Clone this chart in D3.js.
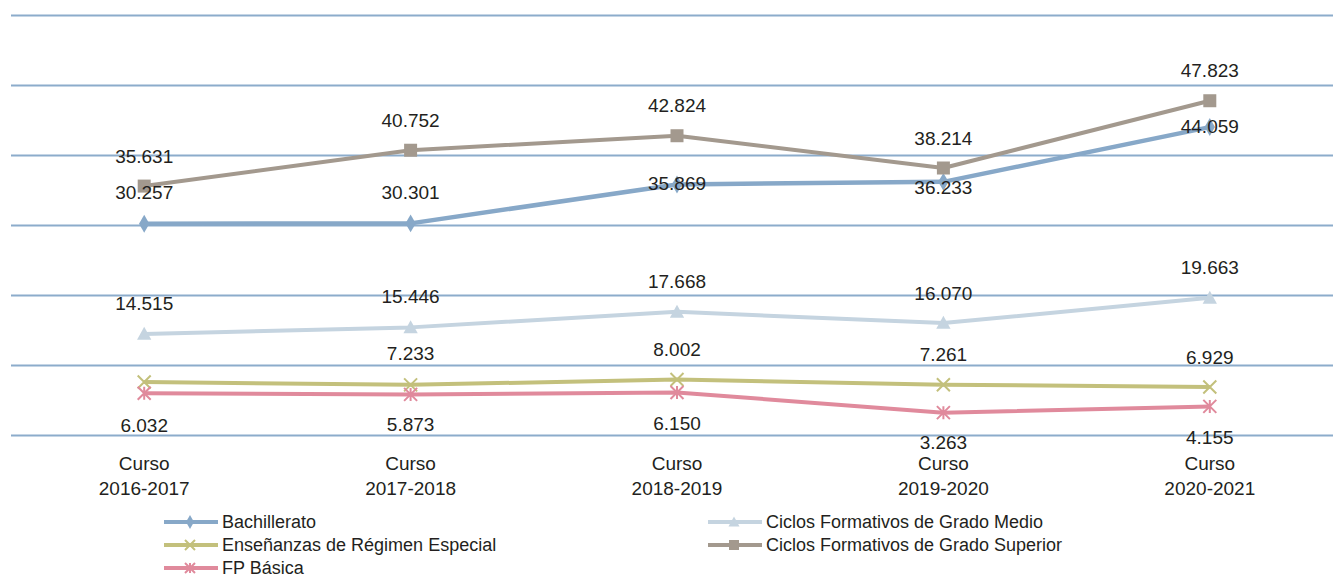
<!DOCTYPE html>
<html><head><meta charset="utf-8">
<script src="https://cdn.jsdelivr.net/npm/d3@7"></script>
<style>body{margin:0;background:#fff}svg{display:block}text{font-family:"Liberation Sans",Arial,sans-serif;fill:#231f20}</style>
</head><body><svg id="c" width="1333" height="577"></svg>
<script>
const categories = ["Curso 2016-2017","Curso 2017-2018","Curso 2018-2019","Curso 2019-2020","Curso 2020-2021"];
const bachillerato = [30257, 30301, 35869, 36233, 44059];
const gradoMedio = [14515, 15446, 17668, 16070, 19663];
const regimenEspecial = [7650, 7233, 8002, 7261, 6929];
const gradoSuperior = [35631, 40752, 42824, 38214, 47823];
const fpBasica = [6032, 5873, 6150, 3263, 4155];
const yTicks = [0, 10000, 20000, 30000, 40000, 50000, 60000];
// which labels are displayed (reference hides one)
const showEspecial = [false, true, true, true, true];
// label vertical offsets (px) relative to point
const offBach = [-31, -31, -1, 5, -1];
const offMedio = [-31, -31, -30, -30, -31];
const offEsp = [-31, -32, -30, -30, -30];
const offSup = [-30, -30, -30, -30, -30];
const offFp = [32, 30, 31, 30, 31];

const series = [
  {name:"Bachillerato", values:bachillerato, color:"#87a8c8", width:4.5, marker:"diamond", off:offBach, show:[1,1,1,1,1]},
  {name:"Ciclos Formativos de Grado Medio", values:gradoMedio, color:"#c5d4e0", width:4, marker:"triangle", off:offMedio, show:[1,1,1,1,1]},
  {name:"Enseñanzas de Régimen Especial", values:regimenEspecial, color:"#c3c07c", width:4, marker:"x", off:offEsp, show:showEspecial},
  {name:"Ciclos Formativos de Grado Superior", values:gradoSuperior, color:"#a3998e", width:4, marker:"square", off:offSup, show:[1,1,1,1,1]},
  {name:"FP Básica", values:fpBasica, color:"#e08a9c", width:4, marker:"star", off:offFp, show:[1,1,1,1,1]}
];

const svg = d3.select("#c");
const x = d3.scaleBand().domain(categories).range([11, 1343]);
const y = d3.scaleLinear().domain([0, 60000]).range([435.5, 15.5]);
const fmt = v => d3.format(",")(v).replace(/,/g, ".");
const cx = c => x(c) + x.bandwidth()/2;

// gridlines
svg.append("g").selectAll("line").data(yTicks).join("line")
  .attr("x1", 11).attr("x2", 1333)
  .attr("y1", d => y(d)).attr("y2", d => y(d))
  .attr("stroke", "#8caccb").attr("stroke-width", 1.8);

// x axis labels
const xl = svg.append("g").selectAll("text").data(categories).join("text")
  .attr("x", cx).attr("text-anchor", "middle").style("font-size", "19px");
xl.append("tspan").attr("x", cx).attr("y", 470).text(d => d.split(" ")[0]);
xl.append("tspan").attr("x", cx).attr("y", 495).text(d => d.split(" ")[1]);

function marker(g, type, color, s) {
  if (type === "diamond") {
    g.append("path").attr("d", d3.symbol(d3.symbolDiamond, s*s*0.55)()).attr("fill", color);
  } else if (type === "square") {
    g.append("rect").attr("x", -s/2).attr("y", -s/2).attr("width", s).attr("height", s).attr("fill", color);
  } else if (type === "triangle") {
    g.append("path").attr("d", `M0,${-s*0.55}L${s*0.55},${s*0.45}L${-s*0.55},${s*0.45}Z`).attr("fill", color);
  } else if (type === "x") {
    const h = s*0.5;
    g.append("path").attr("d", `M${-h},${-h}L${h},${h}M${-h},${h}L${h},${-h}`).attr("stroke", color).attr("stroke-width", 2);
  } else if (type === "star") {
    const h = s*0.5;
    g.append("path").attr("d", `M${-h},${-h}L${h},${h}M${-h},${h}L${h},${-h}M0,${-h}L0,${h}`).attr("stroke", color).attr("stroke-width", 2);
  }
}

const line = d3.line().x((d, i) => cx(categories[i])).y(d => y(d));
series.forEach(s => {
  const g = svg.append("g");
  g.append("path").attr("d", line(s.values)).attr("fill", "none")
    .attr("stroke", s.color).attr("stroke-width", s.width).attr("stroke-linejoin", "round");
  s.values.forEach((v, i) => {
    const m = g.append("g").attr("transform", `translate(${cx(categories[i])},${y(v)})`);
    marker(m, s.marker, s.color, 13);
  });
});
// labels on top
series.forEach(s => {
  const pts = s.values.map((v, i) => ({v, i})).filter(d => s.show[d.i]);
  svg.append("g").selectAll("text").data(pts).join("text")
    .attr("x", d => cx(categories[d.i]))
    .attr("y", d => y(d.v) + s.off[d.i])
    .attr("dy", "0.35em").attr("text-anchor", "middle").style("font-size", "19px")
    .text(d => fmt(d.v));
});

// legend
const legendPos = [[164, 522], [708, 522], [164, 545], [708, 545], [164, 568]];
series.forEach((s, i) => {
  const [lx, ly] = legendPos[i];
  const g = svg.append("g").attr("transform", `translate(${lx},${ly})`);
  g.append("line").attr("x1", 0).attr("x2", 54).attr("stroke", s.color).attr("stroke-width", 4);
  const m = g.append("g").attr("transform", "translate(26,0)");
  marker(m, s.marker, s.color, 10);
  g.append("text").attr("x", 58).attr("dy", "0.35em").style("font-size", "18px").text(s.name);
});
</script></body></html>
